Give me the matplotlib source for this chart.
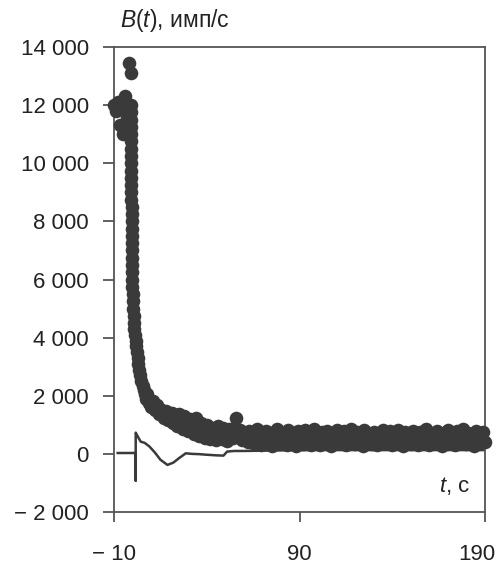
import matplotlib.pyplot as plt
from matplotlib import transforms

plt.rcParams['font.family'] = ['Liberation Sans', 'DejaVu Sans']
plt.rcParams['mathtext.fontset'] = 'custom'
plt.rcParams['mathtext.it'] = 'Liberation Sans:italic'
plt.rcParams['mathtext.rm'] = 'Liberation Sans'

# measured count rate B(t), imp/s -- before the drop
t_pre = [-10, -9, -8, -7, -6, -5, -4, -3, -2, -1]
B_pre = [12000, 11800, 12100, 11300, 11900, 11000, 12300, 11600, 13450, 13100]

# the sharp drop
t_drop = [-0.9, -0.9, -0.85, -0.85, -0.8, -0.8, -0.75, -0.75, -0.7, -0.7,
          -0.65, -0.65, -0.6, -0.6, -0.55, -0.55, -0.5, -0.5, -0.45, -0.45,
          -0.4, -0.4, -0.35, -0.3, -0.2, -0.1, 0.0, 0.2, 0.4, 0.6,
          0.8, 1.0, 1.3, 1.6, 2.0, 2.4, 2.8, 3.2, 3.7, 4.2,
          4.8, 5.4, 6.0, 6.7]
B_drop = [12000, 11750, 11500, 11250, 11000, 10750, 10500, 10250, 10000, 9750,
          9500, 9250, 9000, 8750, 8500, 8250, 8000, 7750, 7500, 7250,
          7000, 6750, 6500, 6250, 6000, 5750, 5500, 5250, 5000, 4750,
          4500, 4300, 4100, 3900, 3700, 3500, 3300, 3100, 2900, 2700,
          2500, 2350, 2200, 2050]

# decay tail, 1 s steps
t_tail = list(range(7, 61))
B_tail = [1900, 2050, 1750, 1600, 1820, 1500, 1680, 1380, 1550, 1450,
          1250, 1480, 1150, 1350, 1420, 1050, 1250, 950, 1380, 1150,
          850, 1300, 1050, 780, 1200, 950, 700, 1250, 880, 620,
          1050, 800, 550, 980, 720, 500, 900, 650, 480, 950,
          700, 520, 880, 640, 460, 850, 700, 560, 900, 1240,
          620, 820, 480, 720]

# background level, 1 s steps
t_bg = list(range(61, 191))
B_bg = [650, 420, 780, 560, 380, 720, 840, 470, 300, 690,
        550, 800, 410, 640, 280, 760, 520, 860, 370, 600,
        450, 730, 310, 820, 580, 400, 690, 260, 770, 500,
        640, 350, 810, 470, 720, 290, 580, 840, 420, 660,
        320, 750, 530, 390, 800, 610, 270, 700, 460, 830,
        360, 620, 500, 780, 300, 690, 420, 850, 550, 330,
        740, 480, 600, 270, 810, 400, 670, 520, 350, 760,
        580, 290, 720, 440, 830, 360, 610, 500, 780, 310,
        650, 470, 820, 380, 560, 260, 740, 520, 690, 340,
        800, 430, 600, 300, 760, 550, 400, 840, 480, 320,
        700, 580, 360, 790, 450, 640, 280, 730, 510, 820,
        380, 660, 470, 300, 770, 540, 410, 850, 600, 330,
        720, 460, 580, 280, 800, 390, 650, 500, 760, 420]

# second (difference) curve
t_line = [-8, 1.7, 1.7, 1.7, 2.8, 4.4, 6.5, 9, 12, 15, 18.8, 22, 25, 28.7,
          32, 36, 40, 45, 49, 51, 55, 60, 70, 80, 100, 130, 160, 190]
L_line = [30, 30, -920, 730, 600, 420, 380, 260, 50, -200, -380, -300, -150, 20,
          0, -10, -30, -50, -60, 80, 100, 100, 110, 120, 130, 130, 130, 130]

y_ticks = [-2000, 0, 2000, 4000, 6000, 8000, 10000, 12000, 14000]
y_labels = ['\u2212 2 000', '0', '2 000', '4 000', '6 000', '8 000',
            '10 000', '12 000', '14 000']
x_ticks = [-10, 90, 190]
x_labels = ['\u2212 10', '90', '190']

ink = '#3a3a3a'
axis_col = '#555555'

t_all = t_pre + t_drop + t_tail + t_bg
B_all = B_pre + B_drop + B_tail + B_bg

fig = plt.figure(figsize=(5.02, 5.67), dpi=100)
ax = fig.add_axes([114 / 502, 1 - 512 / 567, 371 / 502, 465 / 567])

ax.plot(t_line, L_line, color=ink, lw=1.8, zorder=2)
ax.plot(t_all, B_all, 'o', color=ink, ms=9.8, mec='none', zorder=3, clip_on=False)

ax.set_xlim(-10, 190)
ax.set_ylim(-2000, 14000)
ax.set_xticks(x_ticks)
ax.set_xticklabels(x_labels)
ax.set_yticks(y_ticks)
ax.set_yticklabels(y_labels)

for s in ax.spines.values():
    s.set_color(axis_col)
    s.set_linewidth(1.3)

ax.tick_params(axis='both', direction='out', color=axis_col, width=1.3,
               labelsize=16, labelcolor='#222222')
ax.tick_params(axis='y', length=8, pad=10)
ax.tick_params(axis='x', length=7, pad=16)

# the last x label sits a little to the left of its tick
last = ax.get_xticklabels()[-1]
last.set_transform(last.get_transform() +
                   transforms.ScaledTranslation(-8 / 100, 0, fig.dpi_scale_trans))

ax.text(0.016, 1.043, '$B$($t$), имп/с', transform=ax.transAxes,
        fontsize=16.5, color='#222222', ha='left', va='baseline')
ax.text(0.96, 0.043, '$t$, с', transform=ax.transAxes,
        fontsize=16, color='#222222', ha='right', va='baseline')

fig.savefig('out.png', dpi=100)
